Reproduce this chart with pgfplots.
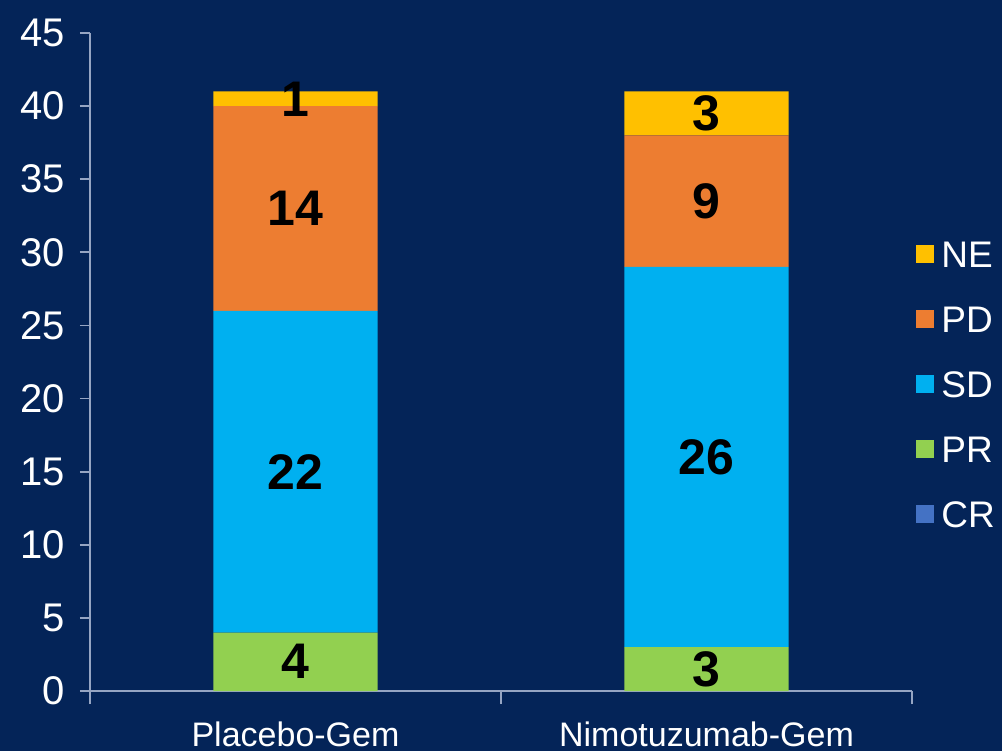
\documentclass[border=0pt]{standalone}
\usepackage{fontspec}
\setmainfont{Liberation Sans}
\usepackage{pgfplots}
\pgfplotsset{compat=1.18}
\usepackage{pgfplotstable}

\definecolor{navybg}{RGB}{4,36,88}
\definecolor{axisgray}{RGB}{150,165,195}
\definecolor{neC}{RGB}{255,192,0}
\definecolor{pdC}{RGB}{237,125,49}
\definecolor{sdC}{RGB}{0,176,240}
\definecolor{prC}{RGB}{146,208,80}
\definecolor{crC}{RGB}{68,114,196}

% best response counts per arm (x: 0 = Placebo-Gem, 1 = Nimotuzumab-Gem)
\pgfplotstableread{
x CR PR SD PD NE
0 0 4 22 14 1
1 0 3 26 9 3
}\response

\pgfplotsset{
  % value label centred on each stacked segment
  seglabel/.style={
    point meta=explicit symbolic,
    nodes near coords={\pgfplotspointmeta},
    every node near coord/.append style={
      anchor=center, text=black,
      font=\bfseries\fontsize{25}{25}\selectfont
    }
  }
}

\begin{document}
\begin{tikzpicture}[x=1pt,y=1pt]
\fill[navybg] (-45,-30) rectangle (456,345.5);
\begin{axis}[
  at={(0,0)}, anchor=south west,
  scale only axis, width=411pt, height=329pt,
  ybar stacked, bar width=0.4,
  xmin=-0.5, xmax=1.5, ymin=0, ymax=45,
  ytick={0,5,...,45},
  xtick={0,1}, xticklabels={Placebo-Gem, Nimotuzumab-Gem},
  x tick style={draw=none},
  extra x ticks={-0.5,0.5,1.5}, extra x tick labels={},
  extra x tick style={x tick style={draw=axisgray, line width=0.9pt}, major tick length=6.5pt},
  axis lines=left, axis line style={-, draw=axisgray, line width=0.9pt},
  y tick style={draw=axisgray, line width=0.9pt},
  tick align=outside, major tick length=5pt,
  /pgf/number format/assume math mode=true,
  yticklabel style={text=white, font=\fontsize{20}{20}\selectfont, xshift=-4pt},
  xticklabel style={text=white, font=\fontsize{17}{17}\selectfont, yshift=-7pt},
  reverse legend,
  legend image code/.code={\fill[#1, draw=none] (0pt,-4.5pt) rectangle (9pt,4.5pt);},
  legend cell align=left,
  legend style={at={(1,0.69)}, anchor=north west, xshift=-1pt,
    draw=none, fill=none, text=white,
    font=\fontsize{18.5}{18.5}\selectfont, row sep=19.5pt,
    nodes={text height=13pt, text depth=0pt, inner ysep=0pt, inner xsep=3.5pt}},
]
\addplot[fill=crC, draw=none] table[x=x, y=CR]{\response};
\addplot[fill=prC, draw=none, seglabel] table[x=x, y=PR, meta=PR]{\response};
\addplot[fill=sdC, draw=none, seglabel] table[x=x, y=SD, meta=SD]{\response};
\addplot[fill=pdC, draw=none, seglabel] table[x=x, y=PD, meta=PD]{\response};
\addplot[fill=neC, draw=none, seglabel] table[x=x, y=NE, meta=NE]{\response};
\legend{CR, PR, SD, PD, NE}
\end{axis}
\pgfresetboundingbox
\useasboundingbox (-45,-30) rectangle (456,345.5);
\end{tikzpicture}
\end{document}
